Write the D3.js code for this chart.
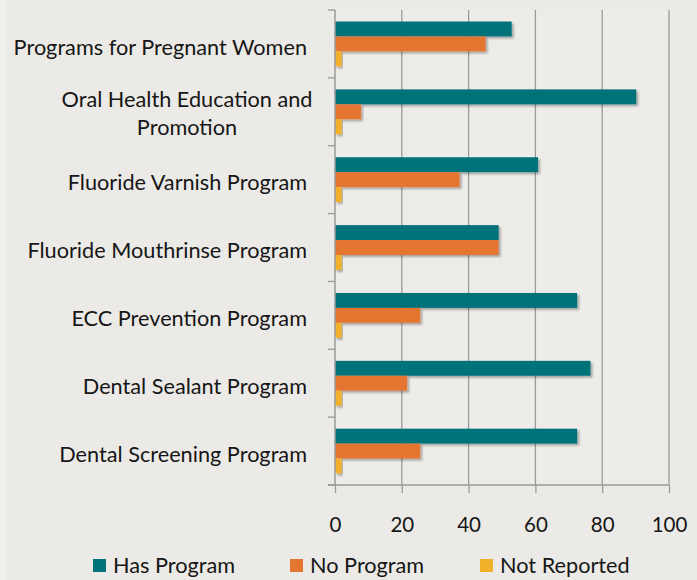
<!DOCTYPE html>
<html>
<head>
<meta charset="utf-8">
<script src="https://cdn.jsdelivr.net/npm/d3@7"></script>
<style>
  body { margin: 0; background: #ECEAE6; }
  svg { display: block; }
  text { font-family: Lato, "Open Sans", sans-serif; fill: #161616; }
</style>
</head>
<body>
<svg id="chart" width="697" height="580"></svg>
<script>
// program categories, top to bottom
const categories = [
    "Programs for Pregnant Women",
    "Oral Health Education and Promotion",
    "Fluoride Varnish Program",
    "Fluoride Mouthrinse Program",
    "ECC Prevention Program",
    "Dental Sealant Program",
    "Dental Screening Program"
];
const hasProgram = [52.9, 90.2, 60.8, 49.0, 72.5, 76.5, 72.5];
const noProgram = [45.1, 7.8, 37.3, 49.0, 25.5, 21.6, 25.5];
const notReported = [2.0, 2.0, 2.0, 2.0, 2.0, 2.0, 2.0];
const seriesNames = ["Has Program", "No Program", "Not Reported"];
const seriesColors = ["#00737A", "#E57632", "#F2B12A"];
const xTicks = [0, 20, 40, 60, 80, 100];

const series = [hasProgram, noProgram, notReported];

const svg = d3.select("#chart");

const plotLeft = 335, plotRight = 669, plotTop = 10, plotBottom = 485;
const fontSize = 21.7;

const x = d3.scaleLinear().domain([0, 100]).range([plotLeft, plotRight]);
const y = d3.scaleBand().domain(categories).range([plotTop, plotBottom]).paddingInner(0.34).paddingOuter(0.17);
const ySub = d3.scaleBand().domain(seriesNames).range([0, y.bandwidth()]);

// shadow under bars
const defs = svg.append("defs");
defs.append("filter")
    .attr("id", "shadow")
    .attr("x", "-5%").attr("y", "-20%")
    .attr("width", "115%").attr("height", "160%")
    .append("feDropShadow")
    .attr("dx", 2).attr("dy", 2)
    .attr("stdDeviation", 1.3)
    .attr("flood-color", "#000")
    .attr("flood-opacity", 0.3);

// thin light strip on the left edge of the picture
svg.append("rect")
    .attr("x", 0).attr("y", 0)
    .attr("width", 6).attr("height", 580)
    .attr("fill", "#F1F0ED");

svg.append("rect")
    .attr("x", plotLeft).attr("y", plotTop)
    .attr("width", plotRight - plotLeft).attr("height", plotBottom - plotTop)
    .attr("fill", "#EEECE9");

// vertical gridlines
svg.append("g")
    .selectAll("line")
    .data(xTicks.slice(1))
    .enter().append("line")
    .attr("x1", d => x(d)).attr("x2", d => x(d))
    .attr("y1", plotTop).attr("y2", plotBottom)
    .attr("stroke", "#9a9a9a")
    .attr("stroke-width", 1.3);

// bars
const groups = svg.append("g")
    .selectAll("g")
    .data(categories)
    .enter().append("g")
    .attr("transform", d => `translate(0,${y(d)})`);

groups.selectAll("rect")
    .data((d, i) => series.map((s, j) => ({name: seriesNames[j], value: s[i], color: seriesColors[j]})))
    .enter().append("rect")
    .attr("x", x(0))
    .attr("y", d => ySub(d.name))
    .attr("width", d => x(d.value) - x(0))
    .attr("height", ySub.bandwidth())
    .attr("fill", d => d.color)
    .attr("filter", "url(#shadow)");

// y axis line + ticks between categories
const yAxis = svg.append("g");
yAxis.append("line")
    .attr("x1", plotLeft).attr("x2", plotLeft)
    .attr("y1", plotTop).attr("y2", plotBottom)
    .attr("stroke", "#9a9a9a").attr("stroke-width", 1.5);
const step = (plotBottom - plotTop) / categories.length;
yAxis.selectAll("line.tick")
    .data(d3.range(categories.length + 1))
    .enter().append("line")
    .attr("class", "tick")
    .attr("x1", plotLeft - 7).attr("x2", plotLeft)
    .attr("y1", d => plotTop + d * step).attr("y2", d => plotTop + d * step)
    .attr("stroke", "#9a9a9a").attr("stroke-width", 1.3);

// x axis
const xAxis = d3.axisBottom(x).tickValues(xTicks).tickSize(8).tickPadding(24);
const xg = svg.append("g")
    .attr("transform", `translate(0,${plotBottom})`)
    .call(xAxis);
xg.select(".domain").attr("stroke", "#9a9a9a").attr("stroke-width", 1.5)
    .attr("d", `M${plotLeft - 7},0H${plotRight}`);
xg.selectAll(".tick line").attr("stroke", "#9a9a9a").attr("stroke-width", 1.3);
xg.selectAll(".tick text")
    .style("font-family", "Lato, sans-serif")
    .style("font-size", "20.5px")
    .attr("fill", "#161616");

// category labels
const labelRight = 307;
svg.append("g")
    .selectAll("text")
    .data(categories)
    .enter().append("text")
    .style("font-size", fontSize + "px")
    .each(function (d) {
        const t = d3.select(this);
        const cy = y(d) + y.bandwidth() / 2;
        if (d === "Oral Health Education and Promotion") {
            const lines = ["Oral Health Education and", "Promotion"];
            t.attr("text-anchor", "middle");
            lines.forEach((ln, k) => {
                t.append("tspan")
                    .attr("x", 187)
                    .attr("y", cy - 16 + k * 28)
                    .attr("dy", "0.5em")
                    .text(ln);
            });
        } else {
            t.attr("text-anchor", "end")
                .attr("x", labelRight)
                .attr("y", cy)
                .attr("dy", "0.5em")
                .text(d);
        }
    });

// legend
const legendX = [93, 290, 480];
const legend = svg.append("g")
    .selectAll("g")
    .data(seriesNames)
    .enter().append("g")
    .attr("transform", (d, i) => `translate(${legendX[i]},559)`);
legend.append("rect")
    .attr("width", 13).attr("height", 13)
    .attr("fill", (d, i) => seriesColors[i]);
legend.append("text")
    .attr("x", 20).attr("y", 14)
    .style("font-size", fontSize + "px")
    .text(d => d);
</script>
</body>
</html>
